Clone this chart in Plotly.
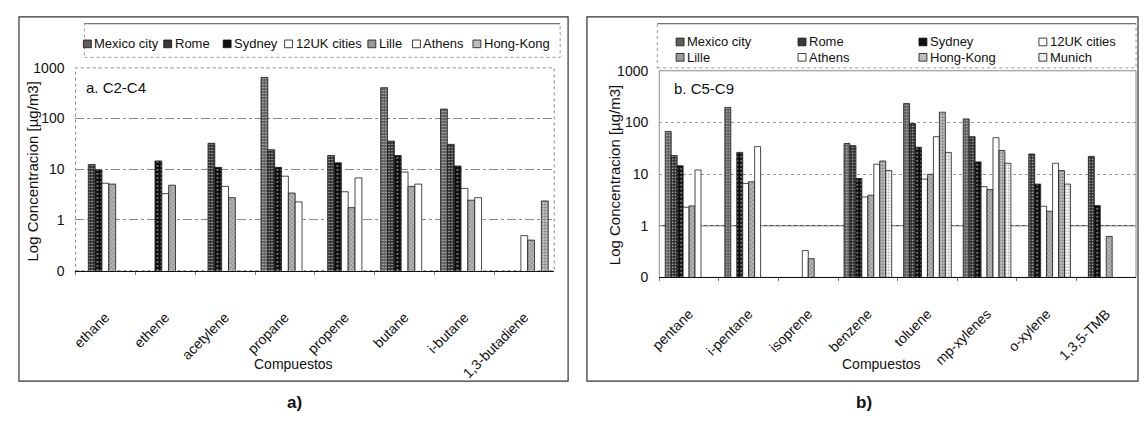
import plotly.graph_objects as go

# ---------------- data ----------------
categories_a = ["ethane", "ethene", "acetylene", "propane", "propene",
                "butane", "i-butane", "1,3-butadiene"]
categories_b = ["pentane", "i-pentane", "isoprene", "benzene", "toluene",
                "mp-xylenes", "o-xylene", "1,3,5-TMB"]

series_a = ["Mexico city", "Rome", "Sydney", "12UK cities", "Lille", "Athens", "Hong-Kong"]
series_b = ["Mexico city", "Rome", "Sydney", "12UK cities", "Lille", "Athens", "Hong-Kong", "Munich"]

N = None
# panel a (C2-C4), concentrations in ug/m3
mexico_a = [N, N, N, 650, N, 407, 154, N]
rome_a = [12.4, N, 32.5, 24.3, 18.7, 36, 31, N]
sydney_a = [9.7, 14.6, 10.9, 10.9, 13.4, 18.7, 11.6, N]
uk12_a = [5.3, 3.3, 4.6, 7.3, 3.6, 8.8, 4.2, 0.49]
lille_a = [5.1, 4.85, 2.75, 3.4, 1.75, 4.6, 2.45, 0.40]
athens_a = [N, N, N, 2.27, 6.75, 5.1, 2.75, N]
hongkong_a = [N, N, N, N, N, N, N, 2.37]

# panel b (C5-C9)
mexico_b = [67, 195, N, 39, 232, 117, N, N]
rome_b = [22.8, N, N, 35.5, 95, 53, 24.5, 22]
sydney_b = [14.5, 26.3, N, 8.2, 33, 17.2, 6.4, 2.45]
uk12_b = [2.28, 6.6, 0.33, 3.6, 8.0, 5.7, 2.38, N]
lille_b = [2.42, 7.1, 0.23, 3.9, 9.9, 5.0, 1.9, 0.62]
athens_b = [12, 34, N, 15.5, 53, 50.6, 16.2, N]
hongkong_b = [N, N, N, 17.9, 158, 28.6, 11.7, N]
munich_b = [N, N, N, 11.7, 26.3, 16.2, 6.4, N]

values_a = [mexico_a, rome_a, sydney_a, uk12_a, lille_a, athens_a, hongkong_a]
values_b = [mexico_b, rome_b, sydney_b, uk12_b, lille_b, athens_b, hongkong_b, munich_b]

y_tickvals = [0.1, 1, 10, 100, 1000]
y_ticktext = ["0", "1", "10", "100", "1000"]

# ---------------- styles ----------------
FONT = "Liberation Sans Narrow, Arial Narrow, Liberation Sans, Arial, sans-serif"
PAGE_PAD = 8            # default body margin of the html page
W, H = 1147 - 2 * PAGE_PAD, 425 - 2 * PAGE_PAD

STYLE = {
    "Mexico city": dict(color="#5c5c5c", pat=dict(shape=".", fgcolor="#c8c8c8", size=3, solidity=0.25), sw="#5e5e5e"),
    "Rome": dict(color="#2f2f2f", pat=dict(shape=".", fgcolor="#d8d8d8", size=3, solidity=0.2), sw="#3a3a3a"),
    "Sydney": dict(color="#0c0c0c", pat=dict(shape=".", fgcolor="#ffffff", size=4, solidity=0.12), sw="#111111"),
    "12UK cities": dict(color="#ffffff", pat=None, sw="#ffffff"),
    "Lille": dict(color="#9a9a9a", pat=dict(shape="x", fgcolor="#ffffff", size=3, solidity=0.2), sw="#9a9a9a"),
    "Athens": dict(color="#ffffff", pat=None, sw="#ffffff"),
    "Hong-Kong": dict(color="#c6c6c6", pat=dict(shape=".", fgcolor="#666666", size=3, solidity=0.3), sw="#bdbdbd"),
    "Munich": dict(color="#f4f4f4", pat=dict(shape=".", fgcolor="#8a8a8a", size=3, solidity=0.2), sw="#eeeeee"),
}


def px(x):
    """screen pixel (page coords) -> paper x"""
    return min(max((x - PAGE_PAD) / W, 0.0), 1.0)


def py(y):
    """screen pixel (page coords) -> paper y"""
    return min(max(1 - (y - PAGE_PAD) / H, 0.0), 1.0)


fig = go.Figure()


def add_bars(names, values, cats, xa, ya):
    for name, vals in zip(names, values):
        st = STYLE[name]
        marker = dict(color=st["color"], line=dict(color="#1a1a1a", width=0.8))
        if st["pat"]:
            marker["pattern"] = dict(fillmode="replace", bgcolor=st["color"], **st["pat"])
        fig.add_trace(go.Bar(x=cats, y=vals, name=name, marker=marker,
                             xaxis=xa, yaxis=ya, showlegend=False))


add_bars(series_a, values_a, categories_a, "x", "y")
add_bars(series_b, values_b, categories_b, "x2", "y2")

xcommon = dict(type="category", tickangle=-45, ticks="outside", tickson="boundaries",
               ticklen=3, tickcolor="#777777", showline=True, linecolor="#111111",
               linewidth=1, showgrid=False,
               tickfont=dict(family=FONT, size=14, color="#111111"))
ycommon = dict(type="log", range=[-1, 3], tickvals=y_tickvals, ticktext=y_ticktext,
               showgrid=True, gridwidth=1, zeroline=False, showline=False, ticks="",
               ticklabelstandoff=10, tickfont=dict(family=FONT, size=14, color="#111111"))

fig.update_layout(
    width=W, height=H, margin=dict(l=0, r=0, t=0, b=0),
    paper_bgcolor="white", plot_bgcolor="white",
    barmode="group", bargap=0.2, bargroupgap=0,
    showlegend=False,
    font=dict(family=FONT, size=13, color="#111111"),
    xaxis=dict(domain=[px(66), px(549)], anchor="y", categoryorder="array",
               categoryarray=categories_a, ticklabelstandoff=32, **xcommon),
    yaxis=dict(domain=[py(273), py(62)], anchor="x", gridcolor="#8a8a8a",
               griddash="dashdot", **ycommon),
    xaxis2=dict(domain=[px(655), px(1136)], anchor="y2", categoryorder="array",
                categoryarray=categories_b, ticklabelstandoff=22, **xcommon),
    yaxis2=dict(domain=[py(280), py(65)], anchor="x2", gridcolor="#9a9a9a",
                griddash="dot", **ycommon),
)

shapes = []
# plot frames
shapes.append(dict(type="rect", xref="x domain", yref="y domain", x0=0, x1=1, y0=0, y1=1,
                   line=dict(color="#8a8a8a", width=1, dash="dot"), layer="below"))
shapes.append(dict(type="rect", xref="x2 domain", yref="y2 domain", x0=0, x1=1, y0=0, y1=1,
                   line=dict(color="#8a8a8a", width=1), layer="below"))
# solid reference line at 1 in panel b
shapes.append(dict(type="line", xref="x2 domain", yref="y2", x0=0, x1=1,
                   y0=y_tickvals[1], y1=y_tickvals[1],
                   line=dict(color="#222222", width=1), layer="below"))
# outer panel borders
shapes.append(dict(type="rect", xref="paper", yref="paper", x0=px(9), x1=px(563),
                   y0=py(388), y1=py(9), line=dict(color="#333333", width=1.2)))
shapes.append(dict(type="rect", xref="paper", yref="paper", x0=px(582), x1=px(1138),
                   y0=py(388), y1=py(9), line=dict(color="#333333", width=1.2)))
# legend boxes
shapes.append(dict(type="rect", xref="paper", yref="paper", x0=px(75), x1=px(555),
                   y0=py(51), y1=py(16), line=dict(color="#999999", width=1, dash="dot")))
shapes.append(dict(type="line", xref="paper", yref="paper", x0=px(75), x1=px(555),
                   y0=py(16), y1=py(16), line=dict(color="#777777", width=1.2)))
shapes.append(dict(type="rect", xref="paper", yref="paper", x0=px(653), x1=px(1136),
                   y0=py(62), y1=py(16), line=dict(color="#999999", width=1, dash="dot")))
shapes.append(dict(type="line", xref="paper", yref="paper", x0=px(653), x1=px(1136),
                   y0=py(16), y1=py(16), line=dict(color="#777777", width=1.2)))

annotations = []

# manual legends (symbols + real text)
leg_a_pos = [(78, 37), (159, 37), (219, 37), (281, 37), (365, 37), (410, 37), (471, 37)]
leg_b_pos = [(676, 35), (799, 35), (921, 35), (1042, 35),
             (676, 51), (799, 51), (921, 51), (1042, 51)]


def add_legend(names, positions):
    for name, (lx, ly) in zip(names, positions):
        st = STYLE[name]
        shapes.append(dict(type="rect", xref="paper", yref="paper",
                           x0=px(lx - 4), x1=px(lx + 4), y0=py(ly + 4), y1=py(ly - 4),
                           fillcolor=st["sw"], line=dict(color="#111111", width=0.8)))
        annotations.append(dict(x=px(lx + 5), y=py(ly), xref="paper", yref="paper",
                                text=name, showarrow=False, xanchor="left", yanchor="middle",
                                font=dict(family=FONT, size=13, color="#111111")))


add_legend(series_a, leg_a_pos)
add_legend(series_b, leg_b_pos)

# panel labels and titles
annotations += [
    dict(x=px(75), y=py(82), text="a. C2-C4", xanchor="left", yanchor="middle",
         font=dict(family=FONT, size=15)),
    dict(x=px(668), y=py(83), text="b. C5-C9", xanchor="left", yanchor="middle",
         font=dict(family=FONT, size=15)),
    dict(x=px(23), y=py(170), text="Log Concentracion [µg/m3]", textangle=-90,
         xanchor="center", yanchor="middle", font=dict(family=FONT, size=15)),
    dict(x=px(610), y=py(174), text="Log Concentracion [µg/m3]", textangle=-90,
         xanchor="center", yanchor="middle", font=dict(family=FONT, size=15)),
    dict(x=px(286), y=py(370), text="Compuestos", xanchor="center", yanchor="middle",
         font=dict(family=FONT, size=14)),
    dict(x=px(879), y=py(370), text="Compuestos", xanchor="center", yanchor="middle",
         font=dict(family=FONT, size=14)),
    dict(x=px(287), y=py(410), text="<b>a)</b>", xanchor="center", yanchor="middle",
         font=dict(family="Liberation Sans, Arial, sans-serif", size=17)),
    dict(x=px(862), y=py(410), text="<b>b)</b>", xanchor="center", yanchor="middle",
         font=dict(family="Liberation Sans, Arial, sans-serif", size=17)),
]
for a in annotations:
    a.setdefault("xref", "paper")
    a.setdefault("yref", "paper")
    a.setdefault("showarrow", False)

fig.update_layout(shapes=shapes, annotations=annotations)
fig.write_html("out.html", config={"displayModeBar": False})
